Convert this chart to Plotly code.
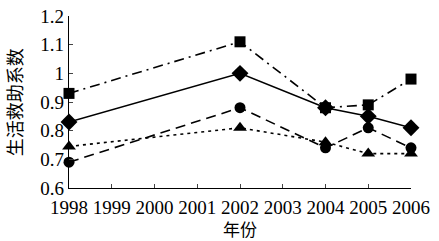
import plotly.graph_objects as go

years = [1998, 2002, 2004, 2005, 2006]
sq = [0.93, 1.11, 0.88, 0.89, 0.98]
dm = [0.83, 1.00, 0.88, 0.85, 0.81]
ci = [0.69, 0.88, 0.74, 0.81, 0.74]
tr = [0.745, 0.81, 0.76, 0.72, 0.72]
xticks = list(range(1998, 2007))
yticks = [0.6, 0.7, 0.8, 0.9, 1.0, 1.1, 1.2]
ytext = ["0.6", "0.7", "0.8", "0.9", "1", "1.1", "1.2"]

fig = go.Figure()
specs = [
    (sq, "square", "10px,5px,2px,5px", 11),
    (dm, "diamond", "solid", 13),
    (ci, "circle", "10px,6px", 11),
    (tr, "triangle-up", "3px,4px", 12),
]
for ys, sym, dash, ms in specs:
    fig.add_trace(go.Scatter(x=years, y=ys, mode="lines+markers",
                             line=dict(color="black", width=1.6, dash=dash),
                             marker=dict(symbol=sym, size=ms, color="black"),
                             cliponaxis=False, showlegend=False))

serif = "Liberation Serif, Times New Roman, serif"
cjk = "Noto Sans CJK SC"
fig.update_layout(
    width=439, height=241,
    margin=dict(l=69, r=28, t=16, b=53, autoexpand=False),
    paper_bgcolor="white", plot_bgcolor="white",
    font=dict(family=serif, size=20, color="black"),
    xaxis=dict(range=[1998, 2006], tickvals=xticks, ticks="inside", ticklen=4,
               showline=True, linecolor="black", linewidth=1.3, showgrid=False,
               zeroline=False, automargin=False, ticklabelstandoff=2,
               tickfont=dict(size=19, family=serif)),
    yaxis=dict(range=[0.6, 1.2], tickvals=yticks, ticktext=ytext, ticks="inside", ticklen=4,
               showline=True, linecolor="black", linewidth=1.3, showgrid=False,
               zeroline=False, automargin=False, tickfont=dict(size=19, family=serif)),
    annotations=[
        dict(text="年份", xref="paper", yref="paper", x=0.5, y=-0.235,
             xanchor="center", yanchor="middle", showarrow=False,
             font=dict(family=cjk, size=17)),
        dict(text="生活救助系数", xref="paper", yref="paper", x=-0.16, y=0.5,
             xanchor="center", yanchor="middle", textangle=-90, showarrow=False,
             font=dict(family=cjk, size=18)),
    ],
)
fig.write_html("out.html", config={"displayModeBar": False},
               post_script="document.body.style.margin='0';document.body.style.overflow='hidden';")
